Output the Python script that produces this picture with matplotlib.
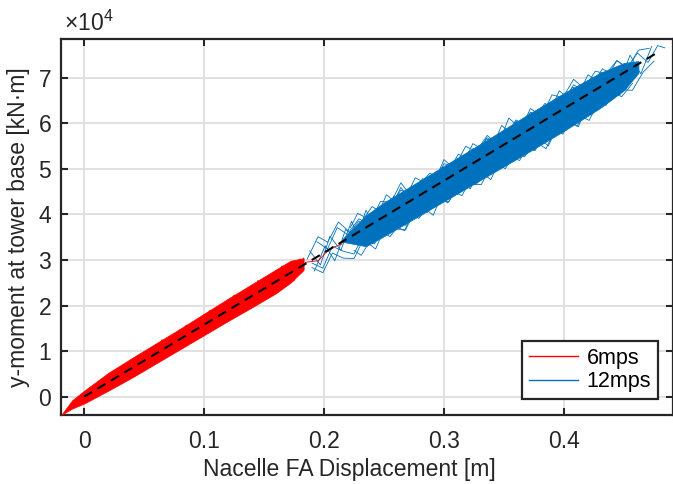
import matplotlib
matplotlib.use("Agg")
import matplotlib.pyplot as plt
import numpy as np
from matplotlib.ticker import FuncFormatter

plt.rcParams['font.family'] = ['Liberation Sans', 'DejaVu Sans']
plt.rcParams['mathtext.fontset'] = 'custom'
plt.rcParams['mathtext.rm'] = 'Liberation Sans'

# Colours (MATLAB style)
RED = '#FF0000'
BLUE = '#0072BD'
AX_COL = '#262626'
GRID_COL = '#dedede'

# y values in 1e3 kN*m, x in m
# linear fit (dashed)
fit_x = [0.0, 0.478]
fit_y = [0.0, 75.5]

# 6mps - dense core of the band
red_core_x = [-0.019, -0.01, 0.0, 0.02, 0.04, 0.06, 0.08, 0.10, 0.12, 0.14, 0.16, 0.172, 0.183]
red_core_hi = [-4.0, -0.8, 1.3, 5.2, 8.5, 11.7, 14.9, 18.2, 21.5, 24.7, 27.9, 29.8, 30.4]
red_core_lo = [-4.0, -2.6, -1.5, 1.3, 4.2, 7.3, 10.4, 13.5, 16.6, 19.6, 22.7, 25.0, 27.8]

# 6mps - traces at the edges
red_t1_x = [-0.015, -0.005, 0.005, 0.015, 0.025, 0.035, 0.045, 0.055, 0.065, 0.075, 0.085,
            0.095, 0.105, 0.115, 0.125, 0.135, 0.145, 0.155, 0.165, 0.175, 0.183]
red_t1_y = [-3.0, -0.5, 2.0, 0.8, 5.8, 3.6, 9.1, 6.7, 12.5, 9.8, 15.7,
            12.8, 19.0, 15.9, 22.3, 18.9, 25.5, 22.1, 28.7, 25.4, 30.4]
red_t2_x = [-0.010, 0.0, 0.010, 0.020, 0.030, 0.040, 0.050, 0.060, 0.070, 0.080,
            0.090, 0.100, 0.110, 0.120, 0.130, 0.140, 0.150, 0.160, 0.170, 0.180]
red_t2_y = [-2.2, -1.0, 0.3, 4.7, 3.0, 8.1, 6.0, 11.5, 9.1, 14.7,
            12.0, 18.0, 15.1, 21.3, 18.1, 24.5, 21.2, 27.7, 24.5, 30.2]
red_t3_x = [0.175, 0.185, 0.195, 0.205, 0.215]
red_t3_y = [27.0, 29.5, 29.8, 32.5, 33.5]
red_t4_x = [0.003, 0.013, 0.023, 0.033, 0.043, 0.053, 0.063, 0.073, 0.083, 0.093,
            0.103, 0.113, 0.123, 0.133, 0.143, 0.153, 0.163, 0.173]
red_t4_y = [1.5, 0.7, 5.1, 3.6, 8.5, 6.8, 11.8, 9.8, 15.0, 12.9,
            18.3, 16.0, 21.4, 19.0, 24.7, 22.2, 27.9, 25.5]

# 12mps - dense core of the band
blue_core_x = [0.215, 0.235, 0.25, 0.28, 0.31, 0.34, 0.37, 0.40, 0.43, 0.45, 0.462]
blue_core_hi = [34.5, 39.8, 42.6, 47.4, 52.2, 57.0, 61.9, 66.6, 71.0, 73.2, 73.6]
blue_core_lo = [34.0, 33.0, 35.2, 39.8, 44.4, 49.0, 53.6, 58.3, 63.3, 67.2, 71.0]

# 12mps - wandering traces
blue_t1_x = [.186, .195, .203, .212, .221, .229, .238, .247, .256, .264, .273, .282, .291, .300,
             .309, .318, .327, .336, .345, .354, .363, .372, .381, .390, .399, .408, .417, .426,
             .435, .444, .453, .462, .471]
blue_t1_y = [30.2, 35.1, 33.9, 38.3, 36.2, 39.0, 37.9, 42.8, 42.7, 46.9, 43.9, 47.8, 47.2, 51.1,
             50.5, 54.9, 53.8, 57.3, 55.2, 61.1, 59.0, 62.4, 61.3, 66.2, 65.6, 69.6, 67.5, 71.4,
             70.8, 73.7, 72.1, 76.0, 76.4]
blue_t2_x = [.190, .199, .207, .216, .225, .233, .242, .251, .260, .268, .277, .286, .295, .304,
             .313, .322, .331, .340, .349, .358, .367, .376, .385, .394, .403, .412, .421, .430,
             .439, .448, .457, .466, .475]
blue_t2_y = [28.3, 27.2, 31.5, 30.4, 30.3, 34.6, 33.5, 37.9, 36.8, 36.6, 41.5, 40.4, 43.3, 42.7,
             47.6, 46.6, 46.5, 50.9, 50.3, 54.2, 52.6, 56.0, 54.4, 59.4, 58.8, 61.7, 60.6, 65.5,
             64.9, 67.3, 67.2, 71.2, 73.6]
blue_t3_x = [.188, .197, .205, .214, .223, .231, .240, .249, .258, .266, .275, .284, .293, .302,
             .311, .320, .329, .338, .347, .356, .365, .374, .383, .392, .401, .410, .419, .428,
             .437, .446, .455, .464, .473]
blue_t3_y = [32.0, 28.9, 35.2, 32.1, 38.5, 33.3, 39.7, 36.6, 44.0, 40.8, 46.2, 41.1, 47.5, 45.4,
             52.3, 47.2, 54.2, 51.6, 57.5, 52.4, 59.3, 56.2, 63.6, 58.5, 64.5, 62.4, 68.8, 63.7,
             70.6, 68.5, 74.9, 70.8, 76.8]
blue_t4_x = [.192, .201, .209, .218, .227, .235, .244, .253, .262, .270, .279, .288, .297, .306,
             .315, .324, .333, .342, .351, .360, .369, .378, .387, .396, .405, .414, .423, .432,
             .441, .450, .459]
blue_t4_y = [27.6, 33.1, 29.8, 36.7, 34.6, 40.9, 36.3, 41.2, 37.6, 45.4, 42.3, 47.2, 42.6, 49.0,
             47.0, 54.4, 49.3, 55.2, 53.1, 60.5, 56.4, 61.8, 57.3, 65.2, 62.6, 67.0, 62.4, 69.3,
             66.7, 71.7, 70.6]
blue_t5_x = [.194, .203, .211, .220, .229, .237, .246, .255, .264, .272, .281, .290, .299, .308,
             .317, .326, .335, .344, .353, .362, .371, .380, .389, .398, .407, .416, .425, .434,
             .443, .452, .461, .470, .478, .484]
blue_t5_y = [34.0, 32.4, 37.1, 35.5, 38.5, 36.7, 41.6, 41.0, 45.9, 43.2, 46.1, 44.5, 50.4, 48.9,
             52.3, 50.7, 56.6, 55.0, 58.4, 55.8, 61.7, 60.2, 63.6, 62.0, 67.9, 66.8, 69.7, 67.6,
             72.1, 71.5, 75.4, 73.3, 77.0, 76.5]
blue_t6_x = [.190, .199, .207, .216, .225, .233, .242, .251, .260, .268, .277, .286, .295, .304,
             .313, .322, .331, .340, .349, .358, .367, .376, .385, .394, .403, .412, .421, .430,
             .439, .448, .457]
blue_t6_y = [29.3, 28.2, 33.0, 31.9, 31.3, 35.6, 34.5, 39.9, 38.3, 37.6, 42.0, 41.9, 45.8, 43.7,
             47.1, 45.6, 51.0, 49.9, 54.3, 51.7, 55.6, 54.0, 58.9, 57.9, 60.8, 59.2, 65.1, 64.0,
             66.9, 65.8, 68.7]
blue_t7_x = [.222, .228, .234, .240, .246, .252, .258, .264, .270, .276, .282, .288, .294, .300,
             .306, .312, .318, .324, .330, .336, .342, .348, .354, .360, .366, .372, .378, .384,
             .390, .396, .402, .408, .414, .420, .426, .432, .438, .444, .450]
blue_t7_y = [37.1, 40.2, 39.4, 41.7, 40.7, 44.3, 43.0, 45.3, 44.7, 48.0, 47.2, 49.0, 48.4, 52.0,
             50.6, 53.2, 52.3, 55.5, 54.6, 56.8, 55.8, 59.5, 58.1, 60.7, 59.8, 63.2, 62.1, 64.3,
             63.5, 67.1, 65.8, 68.4, 67.4, 70.6, 69.5, 71.9, 71.0, 73.7, 72.6]
blue_t8_x = [.225, .231, .237, .243, .249, .255, .261, .267, .273, .279, .285, .291, .297, .303,
             .309, .315, .321, .327, .333, .339, .345, .351, .357, .363, .369, .375, .381, .387,
             .393, .399, .405, .411, .417, .423, .429, .435, .441, .447]
blue_t8_y = [32.1, 31.0, 33.6, 32.4, 36.1, 35.1, 37.2, 36.4, 39.7, 39.1, 41.1, 39.8, 43.6, 42.5,
             44.7, 44.1, 47.2, 46.6, 48.8, 47.6, 51.1, 50.0, 52.4, 51.8, 54.7, 54.0, 56.3, 55.0,
             58.6, 57.6, 60.3, 59.3, 62.6, 61.8, 64.2, 63.9, 66.5, 66.2]

red_traces = [(red_t1_x, red_t1_y), (red_t2_x, red_t2_y), (red_t3_x, red_t3_y),
              (red_t4_x, red_t4_y)]
blue_traces = [(blue_t1_x, blue_t1_y), (blue_t2_x, blue_t2_y), (blue_t3_x, blue_t3_y),
               (blue_t4_x, blue_t4_y), (blue_t5_x, blue_t5_y), (blue_t6_x, blue_t6_y),
               (blue_t7_x, blue_t7_y), (blue_t8_x, blue_t8_y)]

K = 1e3  # 1e3 kN*m -> kN*m

fig = plt.figure(figsize=(6.73, 4.84), dpi=100)
ax = fig.add_axes([0.0906, 0.1426, 0.9094, 0.7768])

# blue (12mps)
ax.fill_between(blue_core_x, np.array(blue_core_lo) * K, np.array(blue_core_hi) * K,
                color=BLUE, lw=0.5, zorder=2)
for i, (tx, ty) in enumerate(blue_traces):
    ax.plot(tx, np.array(ty) * K, color=BLUE, lw=0.6, zorder=2,
            label='12mps' if i == 0 else None)

# red (6mps)
ax.fill_between(red_core_x, np.array(red_core_lo) * K, np.array(red_core_hi) * K,
                color=RED, lw=0.5, zorder=3)
for i, (tx, ty) in enumerate(red_traces):
    ax.plot(tx, np.array(ty) * K, color=RED, lw=0.6, zorder=3,
            label='6mps' if i == 0 else None)

# fit
ax.plot(fit_x, np.array(fit_y) * K, color='black', lw=1.5, ls=(0, (4.5, 3)), zorder=4)

ax.set_xlim(-0.0192, 0.4908)
ax.set_ylim(-4000, 78440)
ax.set_xticks([0, 0.1, 0.2, 0.3, 0.4])
ax.set_xticklabels(['0', '0.1', '0.2', '0.3', '0.4'])
ax.set_yticks(np.arange(0, 8) * 1e4)
ax.yaxis.set_major_formatter(FuncFormatter(lambda v, p: '%d' % round(v / 1e4)))

ax.grid(True, color=GRID_COL, lw=1.3)
ax.set_axisbelow(True)
for s in ax.spines.values():
    s.set_color(AX_COL)
    s.set_linewidth(1.6)
ax.tick_params(direction='in', length=5, width=1.5, color=AX_COL, labelcolor=AX_COL,
               labelsize=16.5, top=True, right=True)
ax.tick_params(axis='x', pad=11)
ax.tick_params(axis='y', pad=7)

ax.set_xlabel('Nacelle FA Displacement [m]', fontsize=16.5, color=AX_COL)
ax.set_ylabel('y-moment at tower base [kN·m]', fontsize=16.5, color=AX_COL, labelpad=6)
ax.xaxis.set_label_coords(0.472, -0.115)

ax.text(0.005, 1.008, r'$\times10^{4}$', transform=ax.transAxes, fontsize=16.5,
        color=AX_COL, ha='left', va='bottom')

handles, labels = ax.get_legend_handles_labels()
order = [labels.index('6mps'), labels.index('12mps')]
leg = ax.legend([handles[i] for i in order], [labels[i] for i in order],
                loc='lower right', bbox_to_anchor=(0.975, 0.043), fontsize=15.5,
                fancybox=False, framealpha=1, edgecolor=AX_COL, handlelength=2.3,
                borderaxespad=0, borderpad=0.3, labelspacing=0.12, handletextpad=0.4)
leg.get_frame().set_linewidth(1.6)
for h in leg.get_lines():
    h.set_linewidth(1.0)

fig.savefig('out.png', dpi=100)
